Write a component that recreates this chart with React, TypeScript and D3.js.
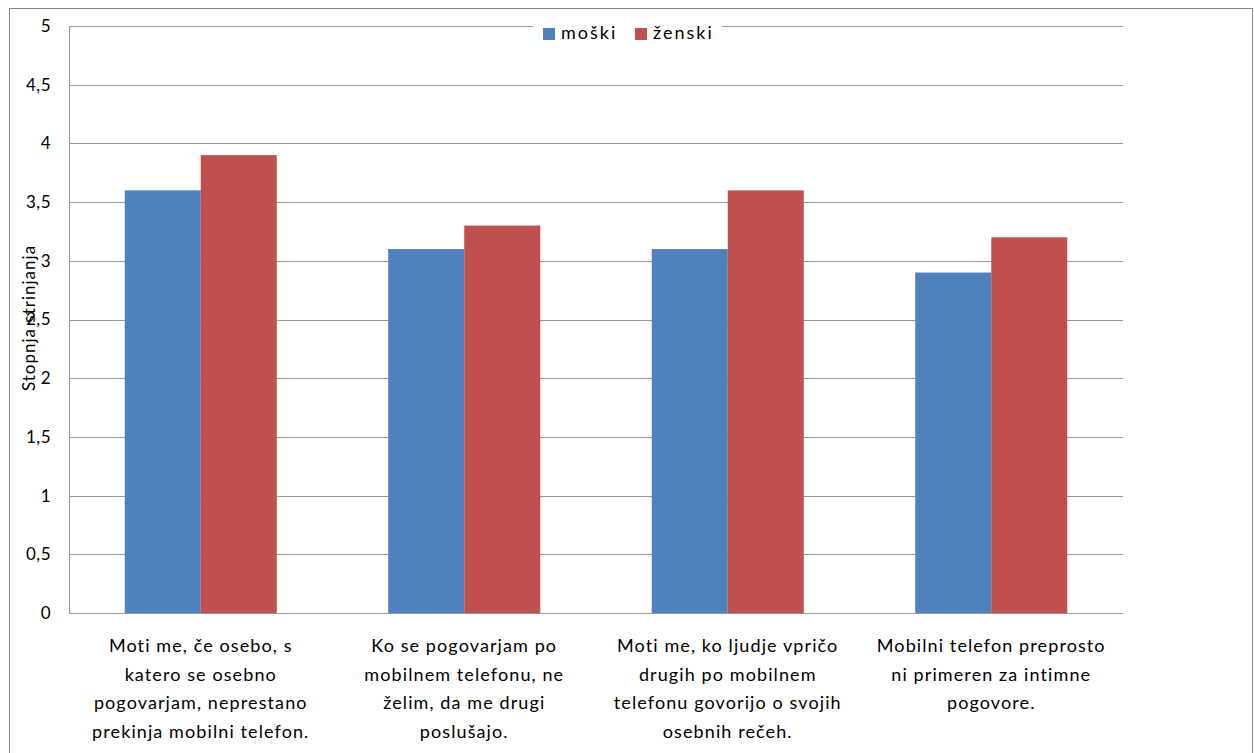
import React from "react";
import * as d3 from "d3";

const categories: string[][] = [
  ["Moti me, če osebo, s", "katero se osebno", "pogovarjam, neprestano", "prekinja mobilni telefon."],
  ["Ko se pogovarjam po", "mobilnem telefonu, ne", "želim, da me drugi", "poslušajo."],
  ["Moti me, ko ljudje vpričo", "drugih po mobilnem", "telefonu govorijo o svojih", "osebnih rečeh."],
  ["Mobilni telefon preprosto", "ni primeren za intimne", "pogovore."],
];
const seriesNames = ["moški", "ženski"];
const moski = [3.6, 3.1, 3.1, 2.9];
const zenski = [3.9, 3.3, 3.6, 3.2];
const yTicks = [0, 0.5, 1, 1.5, 2, 2.5, 3, 3.5, 4, 4.5, 5];
const colors = ["#4F81BD", "#C0504D"];

export default function App() {
  const W = 1254, H = 753;
  const left = 69, right = 1123, top = 26, bottom = 613;
  const x = d3.scaleBand<number>().domain(d3.range(categories.length)).range([left, right]).paddingInner(0.423).paddingOuter(0.2115);
  const xs = d3.scaleBand<number>().domain([0, 1]).range([0, x.bandwidth()]);
  const y = d3.scaleLinear().domain([0, 5]).range([bottom, top]);
  const font = "Lato, 'Open Sans', sans-serif";
  const fmt = (v: number) => String(v).replace(".", ",");
  const series = [moski, zenski];
  return (
    <svg width={W} height={H} style={{ position: "absolute", left: 0, top: 0, background: "#fff" }} fontFamily={font}>
      <rect x={9.5} y={8.5} width={1243} height={770} fill="#fff" stroke="#888" />
      {yTicks.filter((t) => t > 0).map((t) => (
        <line key={t} x1={left} x2={right} y1={Math.round(y(t)) + 0.5} y2={Math.round(y(t)) + 0.5} stroke="#999" />
      ))}
      {series.map((vals, si) =>
        vals.map((v, ci) => (
          <rect key={si + "-" + ci} x={(x(ci) as number) + (xs(si) as number)} y={y(v)} width={xs.bandwidth()} height={y(0) - y(v)} fill={colors[si]} />
        ))
      )}
      <line x1={left + 0.5} x2={left + 0.5} y1={top} y2={bottom} stroke="#999" />
      <line x1={left} x2={right} y1={bottom + 0.5} y2={bottom + 0.5} stroke="#999" />
      {yTicks.map((t) => (
        <text key={t} x={51} y={y(t)} dy="0.35em" textAnchor="end" fontSize={17} letterSpacing={0.5} fill="#000">{fmt(t)}</text>
      ))}
      <text transform={`translate(35,318) rotate(-90)`} textAnchor="middle" fontSize={17} letterSpacing={1} fill="#000">Stopnja strinjanja</text>
      {categories.map((lines, ci) => (
        <text key={ci} textAnchor="middle" fontSize={18} fill="#000" letterSpacing={1.1}>
          {lines.map((l, li) => (
            <tspan key={li} x={(x(ci) as number) + x.bandwidth() / 2} y={652 + li * 28.5}>{l}</tspan>
          ))}
        </text>
      ))}
      <rect x={533} y={18} width={189} height={22} fill="#fff" />
      {seriesNames.map((n, i) => (
        <g key={n} transform={`translate(${543 + i * 92},28)`}>
          <rect x={0} y={0} width={12} height={12} fill={colors[i]} />
          <text x={18} y={11} fontSize={18} fill="#000" letterSpacing={2}>{n}</text>
        </g>
      ))}
    </svg>
  );
}
